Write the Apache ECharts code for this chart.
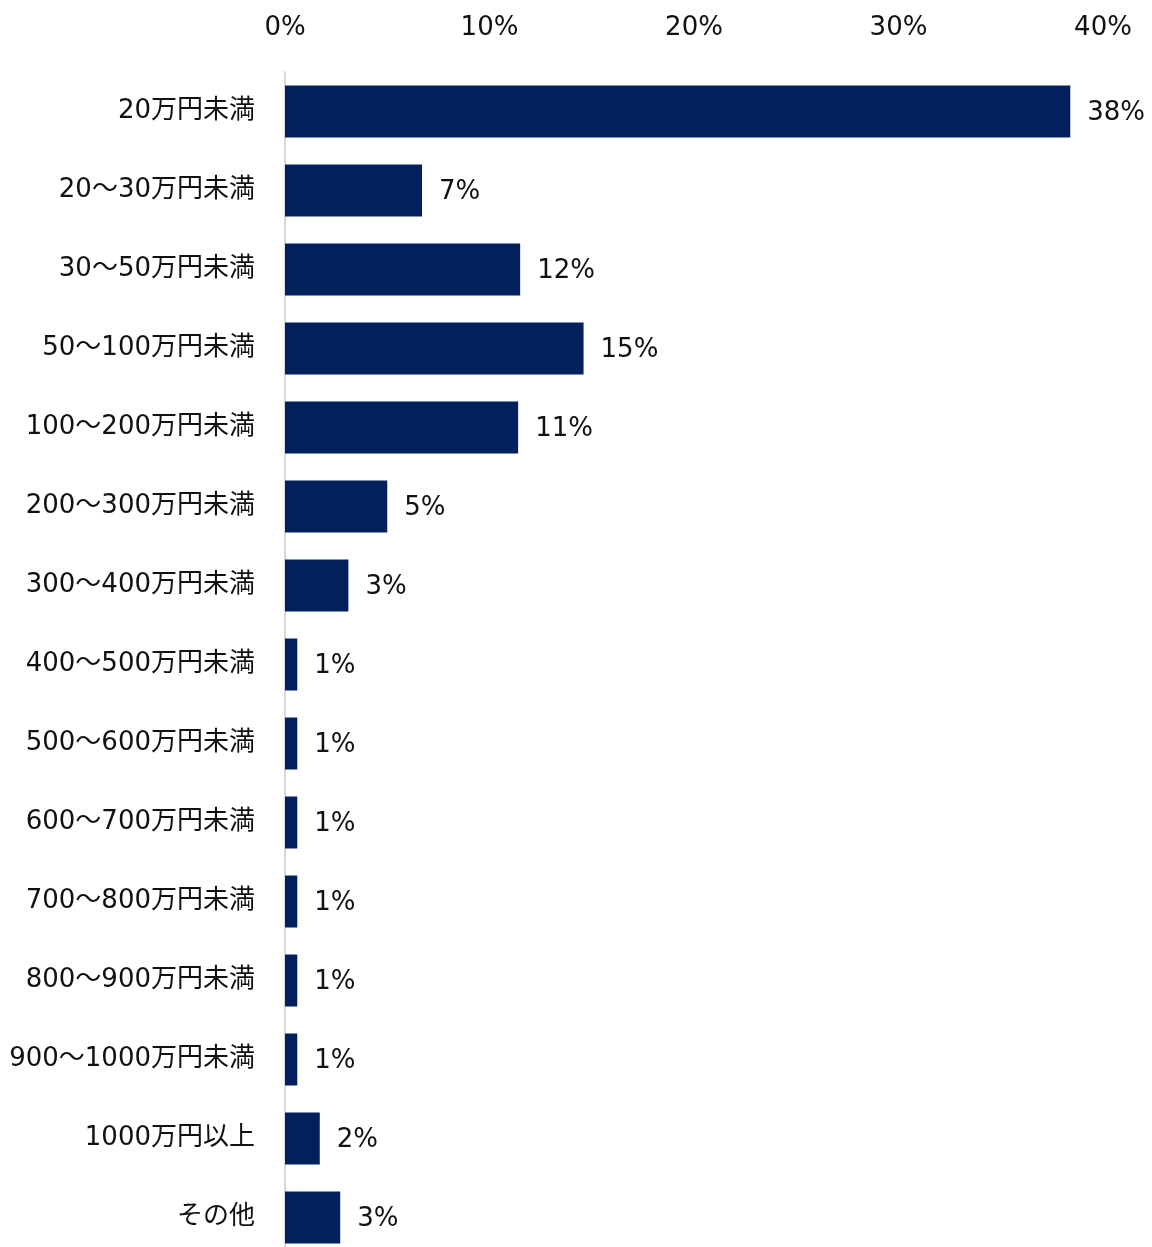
<!DOCTYPE html>
<html>
<head>
<meta charset="utf-8">
<script src="https://cdn.jsdelivr.net/npm/echarts@6/dist/echarts.min.js"></script>
<style>
html,body{margin:0;padding:0;background:#fff;}
#chart{width:1152px;height:1247px;}
</style>
</head>
<body>
<div id="chart"></div>
<script>
const categories = ["20万円未満","20～30万円未満","30～50万円未満","50～100万円未満","100～200万円未満","200～300万円未満","300～400万円未満","400～500万円未満","500～600万円未満","600～700万円未満","700～800万円未満","800～900万円未満","900～1000万円未満","1000万円以上","その他"];
const values = [38.4, 6.7, 11.5, 14.6, 11.4, 5.0, 3.1, 0.6, 0.6, 0.6, 0.6, 0.6, 0.6, 1.7, 2.7];
const valueLabels = ["38%","7%","12%","15%","11%","5%","3%","1%","1%","1%","1%","1%","1%","2%","3%"];
const axisMax = 40;
const axisInterval = 10;

const font = '"DejaVu Sans", Verdana, "Noto Sans CJK JP", sans-serif';
const chart = echarts.init(document.getElementById('chart'), null, {renderer:'canvas'});
chart.setOption({
  backgroundColor:'#ffffff',
  animation:false,
  grid:{left:285, top:72, width:818, height:1185, containLabel:false, outerBoundsMode:'none'},
  xAxis:{
    type:'value', position:'top', min:0, max:axisMax, interval:axisInterval,
    axisLine:{show:false}, axisTick:{show:false}, splitLine:{show:false},
    axisLabel:{formatter:'{value}%', fontSize:26, fontFamily:font, color:'#111', margin:31}
  },
  yAxis:{
    type:'category', inverse:true, data:categories,
    axisLine:{show:true, lineStyle:{color:'#d9d9d9', width:2}},
    axisTick:{show:false},
    axisLabel:{fontSize:26, fontFamily:font, color:'#111', margin:30}
  },
  series:[{
    type:'bar', data:values, barWidth:52,
    itemStyle:{color:'#02205c'},
    label:{show:true, position:'right', distance:17, offset:[0,2], fontSize:26, fontFamily:font, color:'#111',
      formatter:function(p){return valueLabels[p.dataIndex];}}
  }]
});
</script>
</body>
</html>
